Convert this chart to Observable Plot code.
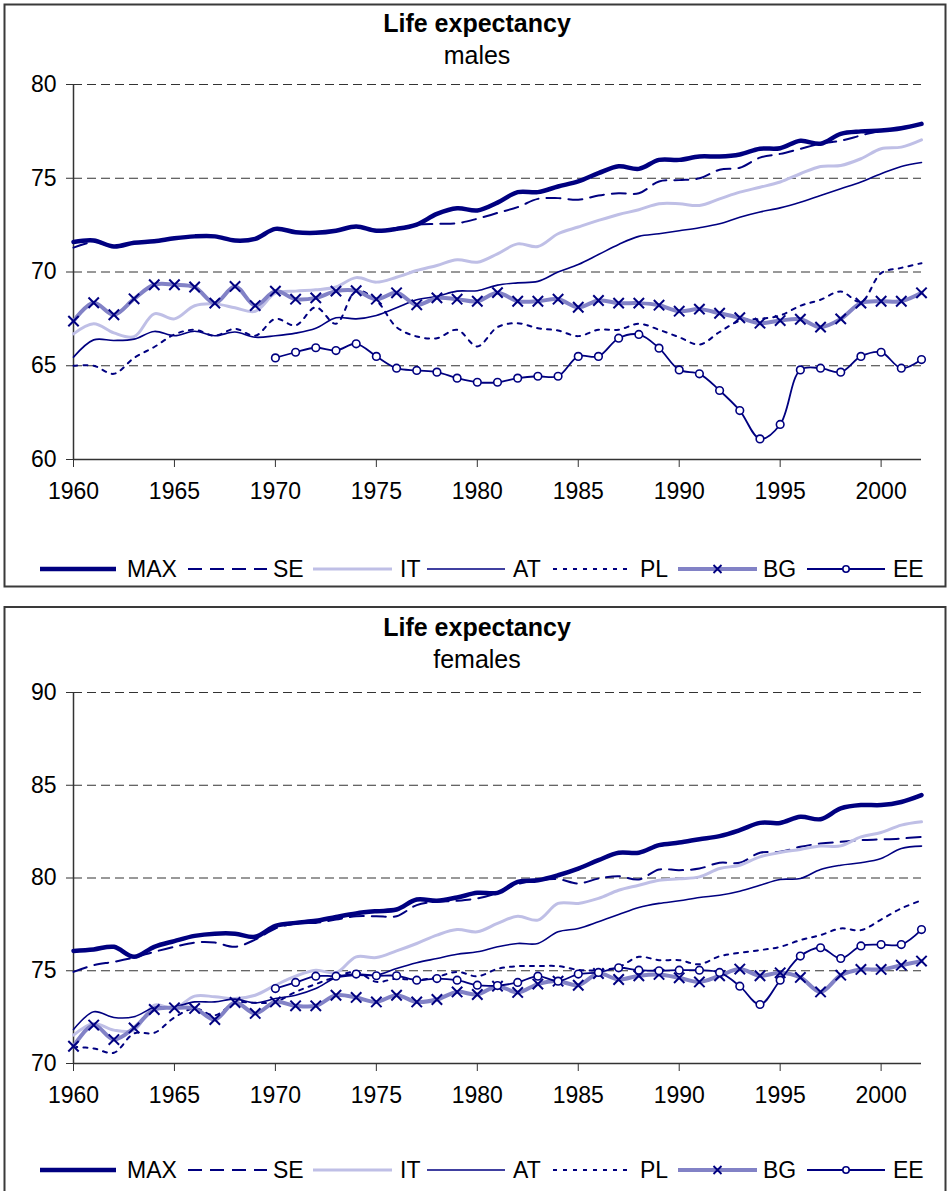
<!DOCTYPE html>
<html>
<head>
<meta charset="utf-8">
<script src="https://cdn.jsdelivr.net/npm/d3@7"></script>
<script src="https://cdn.jsdelivr.net/npm/@observablehq/plot@0.6"></script>
<style>
  html, body { margin: 0; padding: 0; background: #fff; }
  #page { position: relative; width: 949px; height: 1191px; overflow: hidden; background: #fff; font-family: "Liberation Sans", Arial, sans-serif; }
  #deco, #top, #bot { position: absolute; left: 0; }
  #deco { top: 0; }
  #top { top: 0; }
  #bot { top: 600px; }
</style>
</head>
<body>
<div id="page">
  <svg id="deco" width="949" height="1191"></svg>
  <div id="top"></div>
  <div id="bot"></div>
</div>
<script>
// ---------- data ----------
const years = [1960,1961,1962,1963,1964,1965,1966,1967,1968,1969,
               1970,1971,1972,1973,1974,1975,1976,1977,1978,1979,
               1980,1981,1982,1983,1984,1985,1986,1987,1988,1989,
               1990,1991,1992,1993,1994,1995,1996,1997,1998,1999,
               2000,2001,2002];
const eeYears = years.slice(10); // Estonia series start in 1970

const seriesNames = ["MAX","SE","IT","AT","PL","BG","EE"];
const xTickValues = [1960,1965,1970,1975,1980,1985,1990,1995,2000];
const maleYTicks = [60,65,70,75,80];
const femaleYTicks = [70,75,80,85,90];

// males
const maleMAX = [71.6,71.68,71.36,71.56,71.64,71.8,71.9,71.9,71.68,71.77,
  72.3,72.12,72.09,72.2,72.43,72.2,72.3,72.53,73.1,73.4,
  73.28,73.7,74.26,74.26,74.56,74.83,75.27,75.64,75.5,75.98,
  75.98,76.16,76.16,76.27,76.57,76.6,77.0,76.84,77.37,77.5,
  77.55,77.67,77.9];
const maleSE = [71.3,71.6,71.36,71.56,71.64,71.8,71.9,71.9,71.68,71.77,
  72.3,72.12,72.09,72.2,72.43,72.2,72.3,72.53,72.57,72.6,
  72.84,73.15,73.46,73.9,73.94,73.85,74.08,74.2,74.2,74.83,
  74.9,75.0,75.45,75.56,76.1,76.3,76.57,76.84,77.0,77.28,
  77.55,77.7,77.9];
const maleIT = [66.7,67.24,66.75,66.55,67.77,67.5,68.2,68.3,68.09,67.9,
  68.87,68.98,69.05,69.2,69.7,69.46,69.72,70.08,70.35,70.65,
  70.52,70.97,71.5,71.36,72.04,72.4,72.75,73.07,73.32,73.64,
  73.64,73.55,73.9,74.26,74.52,74.8,75.24,75.63,75.68,76.04,
  76.57,76.66,77.05];
const maleAT = [65.46,66.38,66.35,66.42,66.83,66.6,66.84,66.6,66.8,66.52,
  66.6,66.74,67.0,67.56,67.5,67.68,68.09,68.52,68.7,68.98,
  69.0,69.3,69.42,69.5,70.0,70.4,70.93,71.47,71.9,72.04,
  72.2,72.36,72.57,72.92,73.2,73.42,73.72,74.08,74.44,74.8,
  75.24,75.63,75.84];
const malePL = [65.0,65.0,64.57,65.42,66.0,66.67,66.92,66.6,66.97,66.6,
  67.5,67.15,68.12,67.24,69.0,68.48,67.06,66.56,66.47,66.92,
  66.03,67.06,67.27,67.0,66.88,66.58,66.92,66.92,67.24,66.92,
  66.52,66.13,66.8,67.4,67.5,67.68,68.2,68.52,68.96,68.4,
  69.94,70.22,70.47];
const maleBG = [67.38,68.36,67.72,68.57,69.32,69.32,69.2,68.34,69.23,68.21,
  68.98,68.55,68.62,68.98,69.0,68.55,68.89,68.25,68.62,68.55,
  68.44,68.9,68.44,68.44,68.55,68.12,68.48,68.34,68.34,68.23,
  67.91,68.02,67.8,67.56,67.27,67.41,67.48,67.06,67.5,68.34,
  68.44,68.44,68.89];
const maleEE = [65.42,65.72,65.96,65.81,66.17,65.5,64.87,64.75,64.66,64.34,
  64.12,64.12,64.34,64.44,64.44,65.5,65.5,66.47,66.67,65.94,
  64.78,64.57,63.68,62.61,61.1,61.87,64.78,64.87,64.66,65.5,
  65.72,64.87,65.33];

// females
const femaleMAX = [76.07,76.15,76.29,75.75,76.29,76.6,76.88,77.0,77.0,76.83,
  77.42,77.58,77.69,77.9,78.09,78.21,78.3,78.84,78.77,78.95,
  79.2,79.2,79.79,79.88,80.15,80.51,80.96,81.36,81.36,81.77,
  81.91,82.09,82.26,82.58,82.97,82.97,83.3,83.17,83.75,83.93,
  83.93,84.1,84.47];
const femaleSE = [74.94,75.3,75.48,75.71,76.02,76.29,76.52,76.52,76.29,76.68,
  77.28,77.55,77.58,77.76,77.94,77.94,77.94,78.54,78.72,78.77,
  78.9,79.2,79.67,79.88,79.94,79.7,79.97,80.1,79.92,80.46,
  80.42,80.51,80.82,80.82,81.36,81.41,81.68,81.86,81.95,82.04,
  82.08,82.13,82.22];
const femaleIT = [71.53,72.16,71.8,71.8,73.14,72.97,73.63,73.6,73.5,73.68,
  74.22,74.71,75.03,74.89,75.75,75.71,76.07,76.47,76.92,77.22,
  77.1,77.55,77.94,77.73,78.63,78.63,78.9,79.34,79.61,79.88,
  79.96,80.06,80.51,80.69,81.14,81.37,81.54,81.72,81.73,82.22,
  82.45,82.85,83.03];
const femaleAT = [71.83,72.79,72.48,72.52,73.02,73.06,73.32,73.32,73.47,73.27,
  73.5,73.68,74.04,74.62,74.76,74.76,75.12,75.43,75.66,75.89,
  76.02,76.29,76.47,76.47,77.1,77.28,77.64,78.03,78.41,78.63,
  78.77,78.95,79.07,79.29,79.61,79.92,79.97,80.46,80.69,80.82,
  81.05,81.59,81.72];
const femalePL = [70.9,70.81,70.58,71.62,71.65,72.48,72.97,72.6,73.27,73.27,
  73.32,73.86,74.28,74.67,74.94,74.4,74.58,74.49,74.67,74.94,
  74.7,75.1,75.25,75.25,75.25,75.05,75.03,75.2,75.75,75.57,
  75.57,75.35,75.78,75.97,76.11,76.29,76.65,76.92,77.28,77.19,
  77.76,78.36,78.8];
const femaleBG = [70.93,72.07,71.29,71.92,72.91,73.0,72.97,72.37,73.29,72.7,
  73.32,73.11,73.11,73.68,73.56,73.32,73.68,73.32,73.45,73.86,
  73.72,74.17,73.83,74.28,74.44,74.22,74.85,74.53,74.73,74.8,
  74.62,74.4,74.73,75.09,74.73,74.89,74.64,73.86,74.76,75.07,
  75.07,75.3,75.52];
const femaleEE = [74.04,74.37,74.71,74.71,74.82,74.73,74.73,74.49,74.58,74.49,
  74.22,74.2,74.37,74.71,74.44,74.82,74.91,75.16,75.03,75.0,
  75.03,75.03,74.91,74.17,73.18,74.49,75.79,76.24,75.66,76.34,
  76.41,76.41,77.22];

// ---------- styles ----------
const NAVY = "#000080";
const styles = {
  MAX: {stroke: NAVY, strokeWidth: 4.5},
  SE:  {stroke: NAVY, strokeWidth: 2, strokeDasharray: "14,8"},
  IT:  {stroke: "#bfbfe6", strokeWidth: 3},
  AT:  {stroke: NAVY, strokeWidth: 1.6},
  PL:  {stroke: NAVY, strokeWidth: 2, strokeDasharray: "4,6"},
  BG:  {stroke: "#8282c6", strokeWidth: 4},
  EE:  {stroke: NAVY, strokeWidth: 1.8}
};

function toRows(name, xs, vals) {
  return vals.map((v, i) => ({series: name, year: xs[i], value: v}));
}

function makePanel(series, yDomain, yTicks, height, marginTop, marginBottom) {
  const marks = [
    Plot.ruleY(yTicks.filter(t => t !== yDomain[0]), {stroke: "#333", strokeWidth: 1, strokeDasharray: "9,5"}),
    Plot.ruleY([yDomain[0]], {stroke: "#333", strokeWidth: 1.5}),
    Plot.ruleX([1960], {stroke: "#333", strokeWidth: 1.5}),
    Plot.axisY({ticks: yTicks, tickSize: 7, tickPadding: 10, tickFormat: d => String(d), stroke: "#333", label: null}),
    Plot.axisX({ticks: xTickValues, tickSize: 8, tickPadding: 15, tickFormat: d => String(d), stroke: "#333", label: null})
  ];
  for (const name of seriesNames) {
    marks.push(Plot.line(series[name], {x: "year", y: "value", curve: "catmull-rom", ...styles[name]}));
  }
  marks.push(Plot.dot(series.BG, {x: "year", y: "value", symbol: "times", r: 4.8, stroke: NAVY, strokeWidth: 2}));
  marks.push(Plot.dot(series.EE, {x: "year", y: "value", symbol: "circle", r: 3.8, fill: "white", stroke: NAVY, strokeWidth: 1.6}));
  return Plot.plot({
    width: 949,
    height,
    marginLeft: 73,
    marginRight: 28,
    marginTop,
    marginBottom,
    x: {domain: [1960, 2002]},
    y: {domain: yDomain},
    style: {fontFamily: "'Liberation Sans', Arial, sans-serif", fontSize: "23px", color: "#000", background: "transparent", overflow: "visible"},
    marks
  });
}

const maleSeries = {
  MAX: toRows("MAX", years, maleMAX), SE: toRows("SE", years, maleSE), IT: toRows("IT", years, maleIT),
  AT: toRows("AT", years, maleAT), PL: toRows("PL", years, malePL), BG: toRows("BG", years, maleBG),
  EE: toRows("EE", eeYears, maleEE)
};
const femaleSeries = {
  MAX: toRows("MAX", years, femaleMAX), SE: toRows("SE", years, femaleSE), IT: toRows("IT", years, femaleIT),
  AT: toRows("AT", years, femaleAT), PL: toRows("PL", years, femalePL), BG: toRows("BG", years, femaleBG),
  EE: toRows("EE", eeYears, femaleEE)
};

document.getElementById("top").appendChild(makePanel(maleSeries, [60, 80], maleYTicks, 520, 84, 61));
document.getElementById("bot").appendChild(makePanel(femaleSeries, [70, 90], femaleYTicks, 524, 92, 61));

// ---------- frames, titles, legends ----------
const deco = d3.select("#deco");
deco.append("rect").attr("x", 4.5).attr("y", 4.5).attr("width", 941).attr("height", 582)
  .attr("fill", "none").attr("stroke", "#3a3a3a").attr("stroke-width", 2);
deco.append("rect").attr("x", 4.5).attr("y", 607).attr("width", 941).attr("height", 620)
  .attr("fill", "none").attr("stroke", "#3a3a3a").attr("stroke-width", 2);

function titles(y0, sub) {
  deco.append("text").attr("x", 477).attr("y", y0).attr("text-anchor", "middle")
    .attr("font-family", "'Liberation Sans', Arial, sans-serif").attr("font-weight", "bold")
    .attr("font-size", 25).text("Life expectancy");
  deco.append("text").attr("x", 477).attr("y", y0 + 32).attr("text-anchor", "middle")
    .attr("font-family", "'Liberation Sans', Arial, sans-serif")
    .attr("font-size", 25).text(sub);
}
titles(32, "males");
titles(636, "females");

const legendItems = [
  {name: "MAX", x0: 40,  x1: 116, tx: 127},
  {name: "SE",  x0: 188, x1: 267, tx: 273},
  {name: "IT",  x0: 313, x1: 392, tx: 400},
  {name: "AT",  x0: 427, x1: 505, tx: 513},
  {name: "PL",  x0: 553, x1: 630, tx: 640},
  {name: "BG",  x0: 678, x1: 757, tx: 763},
  {name: "EE",  x0: 807, x1: 885, tx: 893}
];
function legend(yc) {
  for (const it of legendItems) {
    const s = styles[it.name];
    deco.append("line").attr("x1", it.x0).attr("x2", it.x1).attr("y1", yc).attr("y2", yc)
      .attr("stroke", s.stroke).attr("stroke-width", s.strokeWidth)
      .attr("stroke-dasharray", s.strokeDasharray || null);
    const mx = (it.x0 + it.x1) / 2;
    if (it.name === "BG") {
      const r = 4;
      deco.append("path").attr("d", `M${mx - r},${yc - r}L${mx + r},${yc + r}M${mx - r},${yc + r}L${mx + r},${yc - r}`)
        .attr("stroke", NAVY).attr("stroke-width", 1.8);
    }
    if (it.name === "EE") {
      deco.append("circle").attr("cx", mx).attr("cy", yc).attr("r", 3.2)
        .attr("fill", "white").attr("stroke", NAVY).attr("stroke-width", 1.6);
    }
    deco.append("text").attr("x", it.tx).attr("y", yc + 8)
      .attr("font-family", "'Liberation Sans', Arial, sans-serif").attr("font-size", 23)
      .text(it.name);
  }
}
legend(569);
legend(1170);
</script>
</body>
</html>
